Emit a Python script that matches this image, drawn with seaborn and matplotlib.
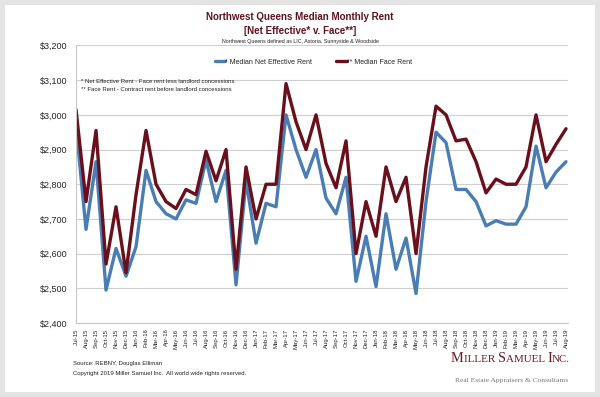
import pandas as pd
import matplotlib.pyplot as plt
import seaborn as sns
from matplotlib.patches import Rectangle

# monthly labels Jul-15 .. Aug-19
meses = list(pd.date_range('2015-07-01', '2019-08-01', freq='MS').strftime('%b-%y'))

renta_efectiva = [2970, 2670, 2865, 2495, 2615, 2535, 2620, 2840, 2750, 2715,
                  2700, 2755, 2745, 2870, 2750, 2840, 2510, 2810, 2630, 2745,
                  2735, 3000, 2900, 2820, 2900, 2760, 2715, 2820, 2520, 2650,
                  2505, 2715, 2555, 2645, 2485, 2750, 2950, 2920, 2785, 2785,
                  2750, 2680, 2695, 2685, 2685, 2735, 2910, 2790, 2835, 2865]

renta_face = [3015, 2750, 2955, 2570, 2735, 2545, 2770, 2955, 2800, 2750,
              2730, 2785, 2770, 2895, 2810, 2900, 2555, 2850, 2700, 2800,
              2800, 3090, 2980, 2900, 3000, 2860, 2790, 2925, 2600, 2750,
              2650, 2850, 2750, 2820, 2600, 2850, 3025, 3000, 2925, 2930,
              2865, 2775, 2815, 2800, 2800, 2850, 3000, 2865, 2915, 2960]

y_ticks = [2400, 2500, 2600, 2700, 2800, 2900, 3000, 3100, 3200]

azul = '#4a7db3'
bordo = '#6a0f1c'

df = pd.DataFrame({'n': range(len(meses)), 'mes': meses,
                   'efectiva': renta_efectiva, 'face': renta_face})

sns.set_style('white')
plt.rcParams['font.family'] = ['Liberation Sans', 'DejaVu Sans']

fig = plt.figure(figsize=(6, 3.97), dpi=100)
fig.patch.set_facecolor('#e4e4e4')
fig.patches.append(Rectangle((0.008, 0.013), 0.984, 0.975, transform=fig.transFigure,
                             facecolor='white', edgecolor='none', zorder=-1))

ax = fig.add_axes([0.1267, 0.1864, 0.82, 0.6990])
ax.set_facecolor('none')

sns.lineplot(data=df, x='n', y='efectiva', color=azul, lw=2.4, ax=ax,
             label='* Median Net Effective Rent')
sns.lineplot(data=df, x='n', y='face', color=bordo, lw=2.4, ax=ax,
             label='** Median Face Rent')

ax.set_xlim(0, 49.2)
ax.set_ylim(2400, 3200)
ax.set_yticks(y_ticks)
ax.set_yticklabels([f'${v:,}' for v in y_ticks], fontsize=6.5)
ax.set_xticks(df['n'])
ax.set_xticklabels(meses, rotation=90, fontsize=4.3)
ax.tick_params(axis='x', length=2, width=0.5, color='#bbbbbb', pad=2)
ax.tick_params(axis='y', length=0, pad=6)
ax.grid(axis='y', color='#cfcfcf', lw=0.8)
ax.set_axisbelow(True)
ax.set_xlabel('')
ax.set_ylabel('')
for lado in ['top', 'right']:
    ax.spines[lado].set_visible(False)
for lado in ['left', 'bottom']:
    ax.spines[lado].set_color('#c8c8c8')
    ax.spines[lado].set_linewidth(0.8)

leg = ax.legend(loc='upper center', bbox_to_anchor=(0.482, 0.975), ncol=2, frameon=False,
                fontsize=5, handlelength=1.5, columnspacing=3.5, handletextpad=0.0)
for h in leg.get_lines():
    h.set_linewidth(2.4)

ax.text(0.01, 0.865, '* Net Effective Rent - Face rent less landlord concessions',
        transform=ax.transAxes, fontsize=4.3, color='#222222')
ax.text(0.01, 0.835, '** Face Rent - Contract rent before landlord concessions',
        transform=ax.transAxes, fontsize=4.3, color='#222222')

fig.text(0.5, 0.958, 'Northwest Queens Median Monthly Rent', ha='center', va='center',
         fontsize=7, fontweight='bold', color='#5e1420')
fig.text(0.5, 0.923, '[Net Effective* v. Face**]', ha='center', va='center',
         fontsize=7, fontweight='bold', color='#5e1420')
fig.text(0.5, 0.896, 'Northwest Queens defined as LIC, Astoria, Sunnyside & Woodside',
         ha='center', va='center', fontsize=3.8, color='#222222')

fig.text(0.122, 0.085, 'Source: REBNY, Douglas Elliman', fontsize=4.3, va='center', color='#222222')
fig.text(0.122, 0.058, 'Copyright 2019 Miller Samuel Inc.  All world wide rights reserved.',
         fontsize=4.3, va='center', color='#222222')

# logo en versalitas: piezas encadenadas de izquierda a derecha
piezas = [('M', 10.4), ('ILLER ', 7.9), ('S', 10.4), ('AMUEL ', 7.9), ('I', 10.4), ('NC.', 7.9)]
renderer = fig.canvas.get_renderer()
textos = []
x_px = 0.0
for txt, tam in piezas:
    t = fig.text(0, 0, txt, fontsize=tam, family='Liberation Serif', color='#6a1a24',
                 va='baseline', transform=None)
    textos.append((t, x_px))
    x_px += t.get_window_extent(renderer).width
x0 = 570 - x_px
base_y = 0.087 * fig.bbox.height
for t, dx in textos:
    t.set_position((x0 + dx, base_y))

fig.text(0.947, 0.042, 'Real Estate Appraisers & Consultants', ha='right', va='center',
         fontsize=5.4, family='Liberation Serif', color='#777777')

fig.savefig('out.png', dpi=100, facecolor=fig.get_facecolor())
